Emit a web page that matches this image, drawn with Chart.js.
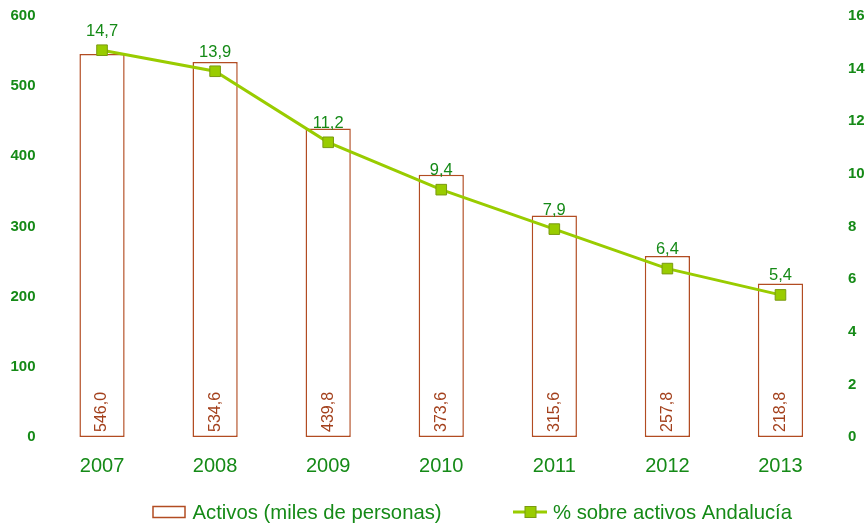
<!DOCTYPE html>
<html>
<head>
<meta charset="utf-8">
<script src="https://cdn.jsdelivr.net/npm/chart.js@4"></script>
<style>
  html, body { margin: 0; padding: 0; background: #fff; }
  #wrap { width: 866px; height: 524px; position: relative; }
</style>
</head>
<body>
<div id="wrap"><canvas id="grafico"></canvas></div>
<script>
// datos
var anios = ["2007", "2008", "2009", "2010", "2011", "2012", "2013"];
var activos = [546.0, 534.6, 439.8, 373.6, 315.6, 257.8, 218.8];
var porcentaje = [14.7, 13.9, 11.2, 9.4, 7.9, 6.4, 5.4];
var ticksIzq = [0, 100, 200, 300, 400, 500, 600];
var ticksDer = [0, 2, 4, 6, 8, 10, 12, 14, 16];

var VERDE = "#158a17";
var MARRON = "#b24c22";
var LIMA = "#99cc00";
var FUENTE = "'Liberation Sans', Arial, sans-serif";

function fmt(v) { return v.toFixed(1).replace(".", ","); }

// sin relleno extra de las etiquetas: el área queda donde dice el layout
function sinPadding(s) { s.paddingTop = 0; s.paddingBottom = 0; s.paddingLeft = 0; s.paddingRight = 0; }

// etiquetas de valores y leyenda propia
var etiquetas = {
  id: "etiquetas",
  afterDatasetsDraw: function (c) {
    var ctx = c.ctx;
    ctx.save();
    // barras: texto vertical dentro, abajo
    var mb = c.getDatasetMeta(0);
    ctx.fillStyle = "#a3401c";
    ctx.font = "16px " + FUENTE;
    ctx.textAlign = "left";
    ctx.textBaseline = "middle";
    mb.data.forEach(function (b, i) {
      ctx.save();
      ctx.translate(b.x, b.base - 5);
      ctx.rotate(-Math.PI / 2);
      ctx.fillText(fmt(activos[i]), 0, 0);
      ctx.restore();
    });
    // linea: valores encima
    var ml = c.getDatasetMeta(1);
    ctx.fillStyle = VERDE;
    ctx.textAlign = "center";
    ctx.textBaseline = "middle";
    ctx.font = "16.5px " + FUENTE;
    ml.data.forEach(function (p, i) {
      ctx.fillText(fmt(porcentaje[i]), p.x, p.y - 19);
    });
    ctx.restore();
  },
  afterDraw: function (c) {
    var ctx = c.ctx;
    ctx.save();
    ctx.font = "20.3px " + FUENTE;
    ctx.textBaseline = "middle";
    ctx.textAlign = "left";
    var y = 512;
    // Activos
    ctx.fillStyle = "#fff";
    ctx.strokeStyle = MARRON;
    ctx.lineWidth = 1.5;
    ctx.fillRect(153, y - 5.5, 32, 11);
    ctx.strokeRect(153, y - 5.5, 32, 11);
    ctx.fillStyle = VERDE;
    ctx.fillText("Activos (miles de personas)", 192.5, y + 1);
    // % sobre activos
    ctx.strokeStyle = LIMA;
    ctx.lineWidth = 3;
    ctx.beginPath(); ctx.moveTo(513, y); ctx.lineTo(547, y); ctx.stroke();
    ctx.fillStyle = LIMA;
    ctx.strokeStyle = "#7a9a10";
    ctx.lineWidth = 1;
    ctx.fillRect(525, y - 5.5, 11, 11);
    ctx.strokeRect(525, y - 5.5, 11, 11);
    ctx.fillStyle = VERDE;
    ctx.fillText("% sobre activos Andalucía", 553, y + 1);
    ctx.restore();
  }
};

new Chart(document.getElementById("grafico"), {
  type: "bar",
  data: {
    labels: anios,
    datasets: [
      {
        type: "bar", label: "Activos (miles de personas)", data: activos, yAxisID: "y",
        backgroundColor: "#ffffff", borderColor: MARRON, borderWidth: 1.5, borderSkipped: false,
        categoryPercentage: 1, barPercentage: 0.40, order: 2
      },
      {
        type: "line", label: "% sobre activos Andalucía", data: porcentaje, yAxisID: "y1",
        borderColor: LIMA, borderWidth: 3, tension: 0,
        pointStyle: "rect", pointRadius: 7.5, pointBackgroundColor: LIMA,
        pointBorderColor: "#7a9a10", pointBorderWidth: 1, order: 1
      }
    ]
  },
  plugins: [etiquetas],
  options: {
    responsive: true, maintainAspectRatio: false, animation: false,
    layout: { padding: { top: 16, left: 0, right: 0, bottom: 0 } },
    plugins: { legend: { display: false }, tooltip: { enabled: false } },
    scales: {
      x: {
        grid: { display: false, drawTicks: false }, border: { display: false },
        ticks: { color: VERDE, font: { size: 20, family: FUENTE }, padding: 17 },
        afterFit: function (s) { s.height = 87; sinPadding(s); }
      },
      y: {
        position: "left", min: 0, max: 600,
        grid: { display: false, drawTicks: false }, border: { display: false },
        afterBuildTicks: function (s) { s.ticks = ticksIzq.map(function (v) { return { value: v }; }); },
        ticks: { color: VERDE, font: { size: 15, weight: "bold", family: FUENTE }, padding: 10 },
        afterFit: function (s) { s.width = 45.5; sinPadding(s); }
      },
      y1: {
        position: "right", min: 0, max: 16,
        grid: { display: false, drawTicks: false }, border: { display: false },
        afterBuildTicks: function (s) { s.ticks = ticksDer.map(function (v) { return { value: v }; }); },
        ticks: { color: VERDE, font: { size: 15, weight: "bold", family: FUENTE }, padding: 11 },
        afterFit: function (s) { s.width = 29; sinPadding(s); }
      }
    }
  }
});
</script>
</body>
</html>
